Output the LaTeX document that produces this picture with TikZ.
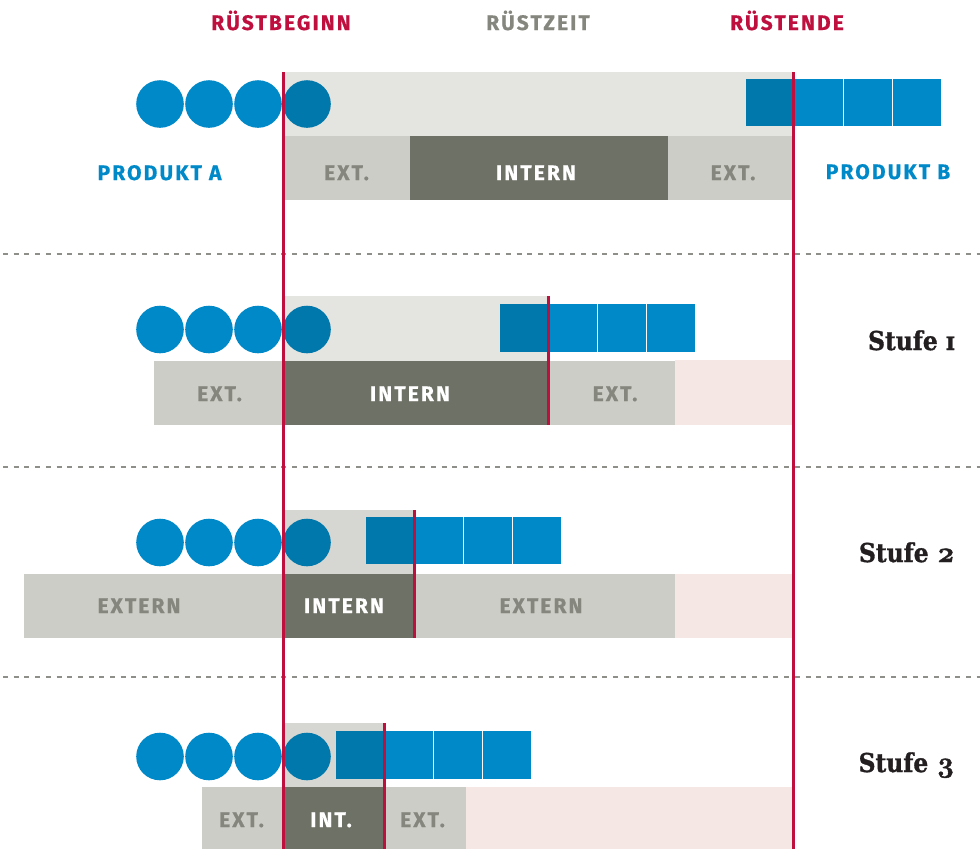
\documentclass[tikz,border=0pt]{standalone}
\usepackage{fontspec}
\newfontfamily\labfont[LetterSpace=10,FakeBold=0.6]{Fira Sans}
\newfontfamily\stufefont[FakeStretch=0.9,FakeBold=1.2]{DejaVu Serif}
\newfontfamily\numfont[Numbers=OldStyle,FakeBold=1.5]{Latin Modern Roman}

\definecolor{bandA}{HTML}{E4E4E0}
\definecolor{bandB}{HTML}{D6D7D2}
\definecolor{extgray}{HTML}{CBCDC6}
\definecolor{intgray}{HTML}{6E7166}
\definecolor{pinkfill}{HTML}{F5E7E4}
\definecolor{prodblue}{HTML}{0089C8}
\definecolor{darkblue}{HTML}{0078AC}
\definecolor{rustred}{HTML}{BE0F3E}
\definecolor{textgray}{HTML}{85877E}
\definecolor{dashgray}{HTML}{8E8F88}
\definecolor{stufeblack}{HTML}{231F20}

\tikzset{
  lbl/.style={anchor=base,inner sep=0pt,font=\labfont\bfseries\fontsize{21}{22}\selectfont},
  extlbl/.style={lbl,text=textgray},
  intlbl/.style={lbl,text=white},
  prodlbl/.style={lbl,text=prodblue},
  headlbl/.style={lbl},
  stufelbl/.style={anchor=base east,inner sep=0pt,text=stufeblack,font=\stufefont\bfseries\fontsize{26}{28}\selectfont},
  redline/.style={draw=rustred,line width=3pt},
  sepline/.style={draw=dashgray,line width=2.5pt,dash pattern=on 5pt off 5.7pt,dash phase=-3pt},
  unit/.style={fill=prodblue},
  unitdark/.style={fill=darkblue}
}

% old-style figures for the stage labels
\newcommand{\stageone}{ɪ}
\newcommand{\stagenum}[1]{{\numfont\bfseries\fontsize{29}{30}\selectfont #1}}

% a row of four work pieces of product A (circles) at height #1
\newcommand{\piecesA}[1]{%
  \fill[unit] (160,#1) circle (23.8);
  \fill[unit] (209,#1) circle (23.8);
  \fill[unit] (258,#1) circle (23.8);
  \fill[unitdark] (307,#1) circle (23.8);
}
% four work pieces of product B (squares): left edge #1, top #2, bottom #3
\newcommand{\piecesB}[3]{%
  \fill[unitdark] (#1,#2) rectangle ++(48,#3-#2);
  \fill[unit] (#1+49,#2) rectangle ++(48,#3-#2);
  \fill[unit] (#1+98,#2) rectangle ++(48,#3-#2);
  \fill[unit] (#1+147,#2) rectangle ++(48,#3-#2);
}

\begin{document}
\begin{tikzpicture}[x=1pt,y=-1pt]
\useasboundingbox (0,0) rectangle (980,849);

% ---- headers
\node[headlbl,text=rustred]  (hbeg) at (281,30) {RÜSTBEGINN};
\node[headlbl,text=textgray] (hzeit) at (538,30) {RÜSTZEIT};
\node[headlbl,text=rustred]  (hend) at (787,30) {RÜSTENDE};

% ---- initial state
\fill[bandA] (283,72) rectangle (793,136);
\fill[extgray] (283,136) rectangle (410,200);
\fill[intgray] (410,136) rectangle (668,200);
\fill[extgray] (668,136) rectangle (793,200);
\piecesA{104}
\piecesB{746}{79}{126}
\node[prodlbl] (pa) at (159.5,180) {PRODUKT A};
\node[prodlbl] (pb) at (888,179) {PRODUKT B};
\node[extlbl] (e0a) at (346.5,180) {EXT.};
\node[intlbl] (i0) at (536,180) {INTERN};
\node[extlbl] (e0b) at (733,180) {EXT.};

% ---- Stufe 1
\fill[bandA] (283,296) rectangle (548,361);
\fill[pinkfill] (675,360) rectangle (793,425);
\fill[extgray] (154,361) rectangle (283,425);
\fill[intgray] (283,361) rectangle (548,425);
\fill[extgray] (548,361) rectangle (675,425);
\piecesA{329.5}
\piecesB{500}{304}{352}
\node[extlbl] (e1a) at (219.5,401) {EXT.};
\node[intlbl] (i1) at (410,401) {INTERN};
\node[extlbl] (e1b) at (615,401) {EXT.};
\node[stufelbl] (s1) at (955,350) {Stufe \stageone};

% ---- Stufe 2
\fill[bandB] (283,510) rectangle (414,574);
\fill[pinkfill] (675,574) rectangle (793,638);
\fill[extgray] (24,574) rectangle (283,638);
\fill[intgray] (283,574) rectangle (414,638);
\fill[extgray] (414,574) rectangle (675,638);
\piecesA{542.5}
\piecesB{366}{517}{564}
\node[extlbl] (e2a) at (139,613) {EXTERN};
\node[intlbl] (i2) at (344,613) {INTERN};
\node[extlbl] (e2b) at (541,613) {EXTERN};
\node[stufelbl] (s2) at (955,562) {Stufe \stagenum{2}};

% ---- Stufe 3
\fill[bandB] (283,723) rectangle (384,787);
\fill[pinkfill] (466,787) rectangle (793,849);
\fill[extgray] (202,787) rectangle (283,849);
\fill[intgray] (283,787) rectangle (384,849);
\fill[extgray] (384,787) rectangle (466,849);
\piecesA{756.5}
\piecesB{336}{731}{779}
\node[extlbl] (e3a) at (241.5,827) {EXT.};
\node[intlbl] (i3) at (331,827) {INT.};
\node[extlbl] (e3b) at (422.5,827) {EXT.};
\node[stufelbl] (s3) at (955,772) {Stufe \stagenum{3}};

% ---- separators
\draw[sepline] (0,254) -- (980,254);
\draw[sepline] (0,467) -- (980,467);
\draw[sepline] (0,677) -- (980,677);

% ---- start / end of changeover
\coordinate (begtop) at (283,72);
\coordinate (begbot) at (283,849);
\coordinate (endtop) at (793,72);
\coordinate (endbot) at (793,849);
\draw[redline] (begtop) -- (begbot);
\draw[redline] (endtop) -- (endbot);
\coordinate (r1t) at (548,296); \coordinate (r1b) at (548,425);
\coordinate (r2t) at (414,510); \coordinate (r2b) at (414,638);
\coordinate (r3t) at (384,723); \coordinate (r3b) at (384,849);
\draw[redline] (r1t) -- (r1b);
\draw[redline] (r2t) -- (r2b);
\draw[redline] (r3t) -- (r3b);
\end{tikzpicture}
\end{document}
